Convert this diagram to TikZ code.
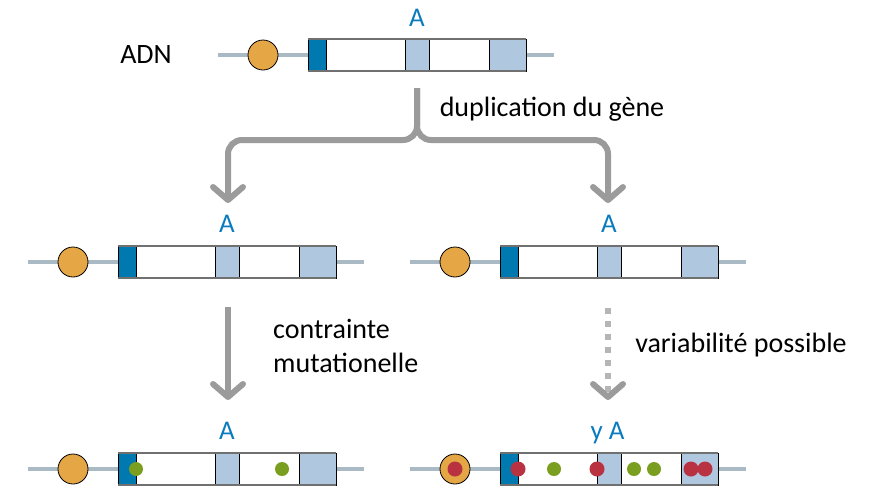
\documentclass[tikz,border=0pt]{standalone}
\usepackage{fontspec}
\setmainfont{Carlito}
\usetikzlibrary{arrows.meta}
\definecolor{dnagray}{HTML}{A9BAC5}
\definecolor{promo}{HTML}{E5A645}
\definecolor{exdark}{HTML}{0079B0}
\definecolor{exlight}{HTML}{B0C7E0}
\definecolor{labblue}{HTML}{0A7BBF}
\definecolor{arrgray}{HTML}{9B9B9B}
\definecolor{dashgray}{HTML}{B5B5B5}
\definecolor{mutgreen}{HTML}{7A9E1F}
\definecolor{mutred}{HTML}{B83242}
\definecolor{boxedge}{HTML}{707070}
\tikzset{
  dnaline/.style={line width=4pt, draw=dnagray},
  promoter/.style={circle, draw=black, line width=0.8pt, fill=promo, minimum size=30pt, inner sep=0pt},
  exon/.style={rectangle, draw=black, line width=0.8pt, minimum height=32pt, inner sep=0pt, outer sep=0pt},
  boxframe/.style={draw=boxedge, line width=1.4pt},
  alabel/.style={text=labblue, font=\fontsize{27}{32}\selectfont, inner sep=0pt},
  txt/.style={text=black, font=\fontsize{28}{34}\selectfont, inner sep=0pt},
  mutg/.style={circle, fill=mutgreen, minimum size=14pt, inner sep=0pt},
  mutr/.style={circle, fill=mutred, minimum size=15pt, inner sep=0pt},
  grayarrow/.style={line width=6pt, draw=arrgray, -{Straight Barb[length=13pt,width=30pt,round]}},
  dasharrow/.style={line width=6pt, draw=dashgray, dash pattern=on 6pt off 7pt,
     -{Straight Barb[length=13pt,width=30pt,round,color=arrgray]}},
  gene/.pic={
    \draw[dnaline] (-90,0) -- (246,0);
    \node[promoter] (-prom) at (-45,0) {};
    \node[exon, fill=exdark, minimum width=18pt] (-e1) at (9,0) {};
    \node[exon, fill=white, minimum width=79pt] (-e2) at (57.5,0) {};
    \node[exon, fill=exlight, minimum width=24pt] (-e3) at (109,0) {};
    \node[exon, fill=white, minimum width=60pt] (-e4) at (151,0) {};
    \node[exon, fill=exlight, minimum width=37pt] (-e5) at (199.5,0) {};
    \draw[boxframe] (-e1.north west) -- (-e5.north east);
    \draw[boxframe] (-e1.south west) -- (-e5.south east);
  }
}
\begin{document}
\begin{tikzpicture}[x=1pt, y=-1pt]
\useasboundingbox[fill=white] (0,0) rectangle (877,496);

% genes
\pic (top) at (308,55) {gene};
\pic (ml) at (118,262) {gene};
\pic (mr) at (500,262) {gene};
\pic (bl) at (118,469) {gene};
\pic (br) at (500,469) {gene};

% labels
\node[txt, anchor=base] (adn) at (146,63) {ADN};
\node[alabel, anchor=base] (topA) at ([yshift=13pt]top-e3.north) {A};
\node[alabel, anchor=base] (mlA) at ([yshift=14pt]ml-e3.north) {A};
\node[alabel, anchor=base] (mrA) at ([yshift=14pt]mr-e3.north) {A};
\node[alabel, anchor=base] (blA) at ([yshift=14pt]bl-e3.north) {A};
\node[alabel, anchor=base] (brA) at ([xshift=-1.5pt,yshift=14pt]br-e3.north) {y A};

% mutations
\node[mutg] (m1) at (136,469) {};
\node[mutg] (m2) at (282,469) {};
\node[mutr] (r0) at (br-prom) {};
\node[mutr] (r1) at (518,469) {};
\node[mutg] (g1) at (554,469) {};
\node[mutr] (r2) at (597,469) {};
\node[mutg] (g2) at (634,469) {};
\node[mutg] (g3) at (654,469) {};
\node[mutr] (r3) at (691,469) {};
\node[mutr] (r4) at (705,469) {};

% duplication arrows
\coordinate (brtop) at (417,88);
\coordinate (brL) at (228,203);
\coordinate (brR) at (608,203);
\draw[grayarrow, rounded corners=14pt] (brtop) -- (417,140) -| (brL);
\draw[grayarrow, rounded corners=14pt] (brtop) -- (417,140) -| (brR);
\node[txt, anchor=base] (dup) at (552,116) {duplication du gène};

% lower arrows
\coordinate (lA1) at (228,307);
\coordinate (lA2) at (228,400);
\draw[grayarrow] (lA1) -- (lA2);
\node[txt, anchor=west, align=left] (contr) at (273,346) {contrainte\\mutationelle};

\coordinate (rA1) at (608,308);
\coordinate (rA2) at (608,400);
\draw[dasharrow] (rA1) -- (rA2);
\node[txt, anchor=base] (var) at (741,352) {variabilité possible};
\end{tikzpicture}
\end{document}
